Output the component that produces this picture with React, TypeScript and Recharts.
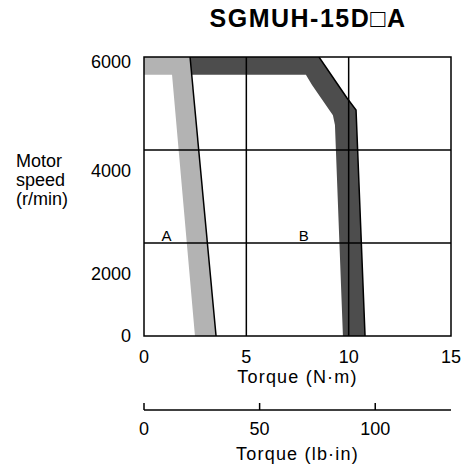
import {
  ComposedChart,
  ReferenceArea,
  ReferenceLine,
  Scatter,
  XAxis,
  YAxis,
} from 'recharts';

const torqueTicks = [0, 5, 10, 15];
const torqueLbTicks = [0, 50, 100];
const speedTicks = [0, 2000, 4000, 6000];
const gridTorque = [5, 10];
const gridSpeed = [2000, 4000];

const NM_TO_LBIN = 8.851;
const TORQUE_MAX = 15;
const SPEED_MAX = 6000;

// A: continuous duty zone (light)
const zoneA = [
  { x: 0, y: 6000 },
  { x: 2.25, y: 6000 },
  { x: 3.52, y: 0 },
  { x: 2.49, y: 0 },
  { x: 1.37, y: 5620 },
  { x: 0, y: 5620 },
];
const edgeA = [
  { x: 2.25, y: 6000 },
  { x: 3.52, y: 0 },
];

// B: intermittent duty zone (dark)
const zoneB = [
  { x: 2.25, y: 6000 },
  { x: 8.55, y: 6000 },
  { x: 9.9, y: 5130 },
  { x: 10.36, y: 4860 },
  { x: 10.8, y: 0 },
  { x: 9.72, y: 0 },
  { x: 9.33, y: 4540 },
  { x: 9.23, y: 4750 },
  { x: 8.21, y: 5400 },
  { x: 7.91, y: 5620 },
  { x: 2.33, y: 5620 },
];
const edgeB = [
  { x: 8.55, y: 6000 },
  { x: 9.9, y: 5130 },
  { x: 10.36, y: 4860 },
  { x: 10.8, y: 0 },
];

const zoneLabels = [
  { x: 1.1, y: 2000, name: 'A' },
  { x: 7.8, y: 2000, name: 'B' },
];

// lb·in scale spans the same torque range as the N·m scale
const lbRange = [
  { lb: 0, y: 0 },
  { lb: TORQUE_MAX * NM_TO_LBIN, y: 0 },
];

const FONT = '"Liberation Sans", Arial, Helvetica, sans-serif';
const INK = '#000';

// the printed speed labels sit a bit below their grid lines
const speedLabelShift: Record<number, number> = { 6000: 5, 4000: 21, 2000: 31, 0: 0 };

const SpeedTick = (props: any) => {
  const { x, y, payload } = props;
  return (
    <text
      x={x}
      y={y + (speedLabelShift[payload.value] ?? 0)}
      dy="0.36em"
      textAnchor="end"
      fontSize={18}
      fontFamily={FONT}
      fill={INK}
    >
      {payload.value}
    </text>
  );
};

const TorqueTick = (props: any) => {
  const { x, y, payload } = props;
  return (
    <text x={x} y={y + 27} textAnchor="middle" fontSize={18} fontFamily={FONT} fill={INK}>
      {payload.value}
    </text>
  );
};

const LbTick = (props: any) => {
  const { x, y, payload } = props;
  return (
    <g>
      <line x1={x} x2={x} y1={y - 7} y2={y} stroke={INK} strokeWidth={1.5} />
      <text x={x} y={y + 25} textAnchor="middle" fontSize={18} fontFamily={FONT} fill={INK}>
        {payload.value}
      </text>
    </g>
  );
};

const noDot = () => <g />;

const labelShape = (p: any) => (
  <text x={p.cx} y={p.cy - 2} textAnchor="middle" fontSize={15} fontFamily={FONT} fill={INK}>
    {p.payload.name}
  </text>
);

const axisTitle = (text: string, dy: number) => ({ viewBox }: any) => (
  <text
    x={viewBox.x + viewBox.width / 2}
    y={viewBox.y + dy}
    textAnchor="middle"
    fontSize={18}
    letterSpacing={1.2}
    fontFamily={FONT}
    fill={INK}
  >
    {text}
  </text>
);

export default function App() {
  return (
    <div
      style={{
        position: 'absolute',
        left: 0,
        top: 0,
        width: 466,
        height: 469,
        background: '#fff',
        fontFamily: FONT,
      }}
    >
      <div
        style={{
          position: 'absolute',
          left: 150,
          width: 316,
          top: 4,
          lineHeight: '28px',
          textAlign: 'center',
          fontSize: 25,
          letterSpacing: 1.5,
          fontWeight: 'bold',
          color: INK,
        }}
      >
        SGMUH-15D□A
      </div>
      <ComposedChart
        width={466}
        height={469}
        margin={{ top: 57, right: 15, bottom: 4, left: 0 }}
      >
        <XAxis
          type="number"
          dataKey="x"
          domain={[0, TORQUE_MAX]}
          ticks={torqueTicks}
          allowDataOverflow
          axisLine={false}
          tickLine={false}
          tickSize={0}
          tickMargin={0}
          height={74}
          tick={<TorqueTick />}
          label={{ content: axisTitle('Torque (N·m)', 47) }}
        />
        <XAxis
          xAxisId="lb"
          type="number"
          dataKey="lb"
          domain={[0, TORQUE_MAX * NM_TO_LBIN]}
          ticks={torqueLbTicks}
          allowDataOverflow
          axisLine={{ stroke: INK, strokeWidth: 1.5 }}
          tickLine={false}
          tickSize={0}
          tickMargin={0}
          height={55}
          tick={<LbTick />}
          label={{ content: axisTitle('Torque (lb·in)', 50) }}
        />
        <YAxis
          type="number"
          dataKey="y"
          domain={[0, SPEED_MAX]}
          ticks={speedTicks}
          allowDataOverflow
          axisLine={false}
          tickLine={false}
          tickSize={0}
          tickMargin={13}
          width={144}
          tick={<SpeedTick />}
          label={{
            content: ({ viewBox }: any) => (
              <text x={16} y={viewBox.y + 110} fontSize={18} fontFamily={FONT} fill={INK}>
                <tspan x={16}>Motor</tspan>
                <tspan x={16} dy={19}>speed</tspan>
                <tspan x={16} dy={19}>(r/min)</tspan>
              </text>
            ),
          }}
        />

        <Scatter
          data={zoneA}
          line={{ fill: '#b3b3b3', stroke: 'none' }}
          shape={noDot}
          legendType="none"
          isAnimationActive={false}
        />
        <Scatter
          data={zoneB}
          line={{ fill: '#4d4d4d', stroke: 'none' }}
          shape={noDot}
          legendType="none"
          isAnimationActive={false}
        />
        <Scatter
          data={edgeA}
          line={{ fill: 'none', stroke: INK, strokeWidth: 1.5 }}
          shape={noDot}
          legendType="none"
          isAnimationActive={false}
        />
        <Scatter
          data={edgeB}
          line={{ fill: 'none', stroke: INK, strokeWidth: 1.5 }}
          shape={noDot}
          legendType="none"
          isAnimationActive={false}
        />
        {/* invisible: only gives the lb·in axis its extent */}
        <Scatter
          data={lbRange}
          xAxisId="lb"
          shape={noDot}
          legendType="none"
          isAnimationActive={false}
        />

        {gridTorque.map((t) => (
          <ReferenceLine key={`gx${t}`} x={t} stroke={INK} strokeWidth={1.5} zIndex={700} />
        ))}
        {gridSpeed.map((s) => (
          <ReferenceLine key={`gy${s}`} y={s} stroke={INK} strokeWidth={1.5} zIndex={700} />
        ))}
        <ReferenceArea
          x1={0}
          x2={TORQUE_MAX}
          y1={0}
          y2={SPEED_MAX}
          fill="none"
          fillOpacity={0}
          stroke={INK}
          strokeWidth={1.5}
          zIndex={700}
        />

        <Scatter
          data={zoneLabels}
          shape={labelShape}
          legendType="none"
          isAnimationActive={false}
          zIndex={800}
        />
      </ComposedChart>
    </div>
  );
}
